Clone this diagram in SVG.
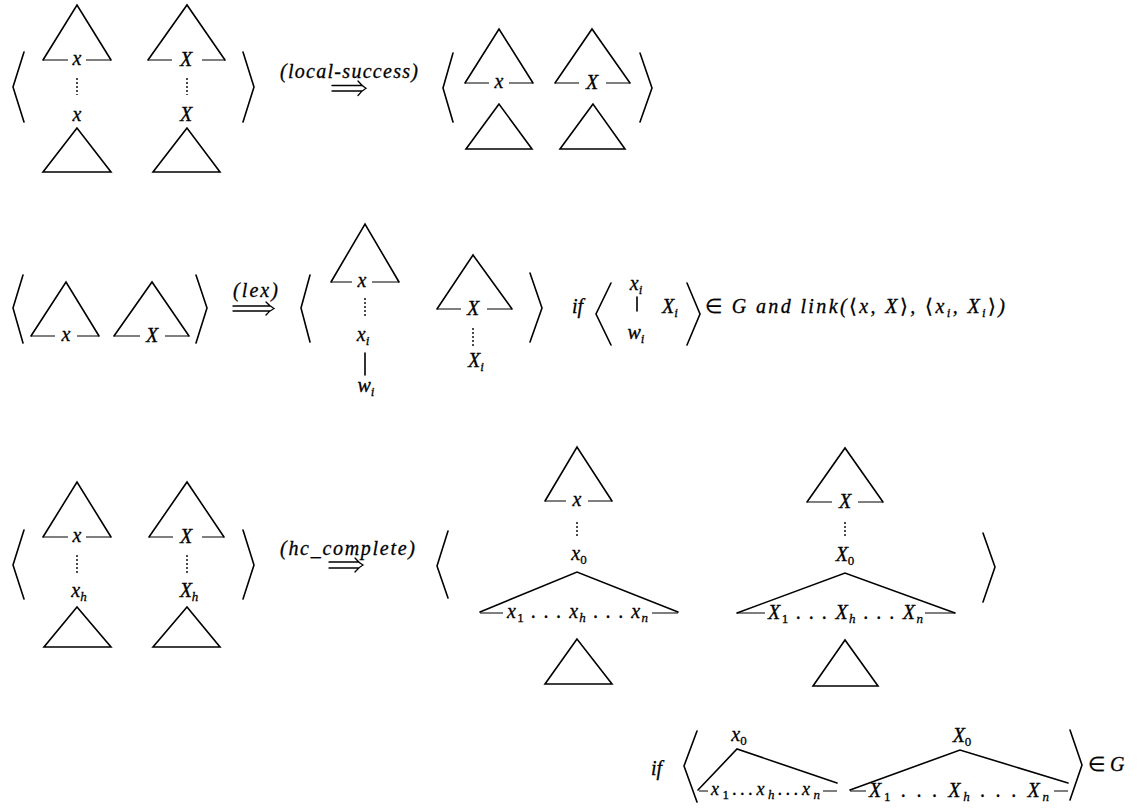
<svg xmlns="http://www.w3.org/2000/svg" width="1143" height="810" viewBox="0 0 1143 810">
<style>
.ln{fill:none;stroke:#000;stroke-width:1.6;stroke-linejoin:miter;stroke-linecap:round}
.th{fill:none;stroke:#000;stroke-width:1.2}
.dot{fill:none;stroke:#000;stroke-width:1.4;stroke-dasharray:2 2}
.m{font-family:'Liberation Serif',serif;font-style:italic;font-size:20px;fill:#000;stroke:#000;stroke-width:0.3}
.sm{font-size:18px}
.s{font-size:13px}
.up{font-style:normal}
.arr{fill:none;stroke:#000;stroke-width:1.3;stroke-linecap:round}
</style>
<rect width="1143" height="810" fill="#fff"/>

<!-- Row 1 left -->
<g id="r1-left">
<path class="ln" d="M24,52 L13,87 L24,122"/>
<path class="ln" d="M43,60 L77,5 L111,60"/>
<path class="th" d="M43,60 H68 M86,60 H111"/>
<text class="m" x="77" y="65" text-anchor="middle">x</text>
<path class="dot" d="M77,78 V95"/>
<text class="m" x="77" y="121" text-anchor="middle">x</text>
<path class="ln" d="M77,128 L43,172 L111,172 Z"/>
<path class="ln" d="M148,60 L187,5 L225,60"/>
<path class="th" d="M148,60 H172 M202,60 H225"/>
<text class="m" x="186" y="66" text-anchor="middle">X</text>
<path class="dot" d="M187,78 V95"/>
<text class="m" x="186" y="121" text-anchor="middle">X</text>
<path class="ln" d="M187,128 L153,172 L220,172 Z"/>
<path class="ln" d="M243,52 L254,87 L243,122"/>
</g>

<!-- Row 1 right -->
<g id="r1-right">
<path class="ln" d="M453,53 L443,88 L453,122"/>
<path class="ln" d="M465,83 L499,29 L533,83"/>
<path class="th" d="M465,83 H489 M509,83 H533"/>
<text class="m" x="499" y="88" text-anchor="middle">x</text>
<path class="ln" d="M499,104 L466,149 L532,149 Z"/>
<path class="ln" d="M555,83 L592,29 L630,83"/>
<path class="th" d="M555,83 H579 M606,83 H630"/>
<text class="m" x="592" y="89" text-anchor="middle">X</text>
<path class="ln" d="M593,104 L560,149 L625,149 Z"/>
<path class="ln" d="M640,53 L652,88 L640,122"/>
</g>

<!-- Row 2 left -->
<g id="r2-left">
<path class="ln" d="M23,275 L13,308 L23,343"/>
<path class="ln" d="M31,336 L66,282 L99,336"/>
<path class="th" d="M31,336 H55 M77,336 H99"/>
<text class="m" x="66" y="341" text-anchor="middle">x</text>
<path class="ln" d="M114,336 L152,282 L189,336"/>
<path class="th" d="M114,336 H140 M165,336 H189"/>
<text class="m" x="152" y="342" text-anchor="middle">X</text>
<path class="ln" d="M196,275 L207,308 L196,343"/>
</g>

<!-- Row 2 middle -->
<g id="r2-mid">
<path class="ln" d="M310,275 L301,308 L310,342"/>
<path class="ln" d="M331,282 L365,224 L399,282"/>
<path class="th" d="M331,282 H352 M372,282 H399"/>
<text class="m" x="362" y="287" text-anchor="middle">x</text>
<path class="dot" d="M365,298 V317"/>
<text class="m" x="363" y="341" text-anchor="middle">x<tspan class="s" dy="4">i</tspan></text>
<path class="ln" d="M365,353 V375"/>
<text class="m" x="366" y="392" text-anchor="middle">w<tspan class="s" dy="4">i</tspan></text>
<path class="ln" d="M437,309 L473,255 L512,309"/>
<path class="th" d="M437,309 H461 M487,309 H512"/>
<text class="m" x="473" y="315" text-anchor="middle">X</text>
<path class="dot" d="M473,328 V348"/>
<text class="m" x="476" y="367" text-anchor="middle">X<tspan class="s" dy="4">i</tspan></text>
<path class="ln" d="M530,273 L542,308 L530,342"/>
</g>

<!-- Row 2 condition -->
<g id="r2-cond">
<text class="m" x="572" y="313">if</text>
<path class="ln" d="M611,283 L596,314 L611,345"/>
<text class="m" x="636" y="290" text-anchor="middle">x<tspan class="s" dy="4">i</tspan></text>
<path class="ln" d="M637,297 V311"/>
<text class="m" x="636" y="339" text-anchor="middle">w<tspan class="s" dy="4">i</tspan></text>
<text class="m" x="662" y="313">X<tspan class="s" dy="4">i</tspan></text>
<path class="ln" d="M687,283 L700,314 L687,345"/>
<text class="m" x="705" y="313" textLength="300" lengthAdjust="spacing"><tspan class="up">∈</tspan> G  and  link(<tspan class="up">⟨</tspan>x, X<tspan class="up">⟩</tspan>, <tspan class="up">⟨</tspan>x<tspan class="s" dy="4">i</tspan><tspan dy="-4">, X</tspan><tspan class="s" dy="4">i</tspan><tspan class="up" dy="-4">⟩</tspan>)</text>
</g>

<!-- Row 3 left -->
<g id="r3-left">
<path class="ln" d="M24,530 L13,565 L24,599"/>
<path class="ln" d="M43,537 L77,482 L111,537"/>
<path class="th" d="M43,537 H68 M86,537 H111"/>
<text class="m" x="77" y="542" text-anchor="middle">x</text>
<path class="dot" d="M77,555 V573"/>
<text class="m" x="79" y="597" text-anchor="middle">x<tspan class="s" dy="4">h</tspan></text>
<path class="ln" d="M77,607 L44,647 L111,647 Z"/>
<path class="ln" d="M149,537 L187,482 L224,537"/>
<path class="th" d="M149,537 H173 M202,537 H224"/>
<text class="m" x="186" y="543" text-anchor="middle">X</text>
<path class="dot" d="M187,555 V573"/>
<text class="m" x="189" y="597" text-anchor="middle">X<tspan class="s" dy="4">h</tspan></text>
<path class="ln" d="M187,607 L153,647 L220,647 Z"/>
<path class="ln" d="M243,530 L254,565 L243,599"/>
</g>

<!-- Row 3 right side -->
<g id="r3-right">
<path class="ln" d="M448,531 L437,566 L448,598"/>
<path class="ln" d="M545,501 L577,447 L612,501"/>
<path class="th" d="M545,501 H566 M588,501 H612"/>
<text class="m" x="577" y="506" text-anchor="middle">x</text>
<path class="dot" d="M577,522 V538"/>
<text class="m" x="579" y="560" text-anchor="middle">x<tspan class="s up" dy="4">0</tspan></text>
<path class="ln" d="M480,612 L577,572 L678,612"/>
<path class="th" d="M480,613 H503 M652,613 H678"/>
<text class="m" x="507" y="618" textLength="141" lengthAdjust="spacing">x<tspan class="s up" dy="4">1</tspan><tspan dy="-4"> . . . x</tspan><tspan class="s" dy="4">h</tspan><tspan dy="-4"> . . . x</tspan><tspan class="s" dy="4">n</tspan></text>
<path class="ln" d="M577,639 L545,684 L612,684 Z"/>

<path class="ln" d="M807,502 L845,448 L883,502"/>
<path class="th" d="M807,502 H832 M858,502 H883"/>
<text class="m" x="845" y="508" text-anchor="middle">X</text>
<path class="dot" d="M845,522 V538"/>
<text class="m" x="845" y="561" text-anchor="middle">X<tspan class="s up" dy="4">0</tspan></text>
<path class="ln" d="M737,613 L845,573 L955,613"/>
<path class="th" d="M737,613 H765 M925,613 H955"/>
<text class="m" x="768" y="619" textLength="155" lengthAdjust="spacing">X<tspan class="s up" dy="4">1</tspan><tspan dy="-4"> . . . X</tspan><tspan class="s" dy="4">h</tspan><tspan dy="-4"> . . . X</tspan><tspan class="s" dy="4">n</tspan></text>
<path class="ln" d="M845,640 L813,686 L878,686 Z"/>
<path class="ln" d="M983,533 L995,567 L983,602"/>
</g>

<!-- Bottom condition -->
<g id="r3-cond">
<text class="m" x="651" y="775">if</text>
<path class="ln" d="M697,731 L684,766 L697,802"/>
<text class="m" x="739" y="741" text-anchor="middle">x<tspan class="s up" dy="4">0</tspan></text>
<path class="ln" d="M698,790 L737,749 L837,783"/>
<path class="th" d="M699,791 H708 M823,791 H837"/>
<text class="m sm" x="711" y="795" textLength="109" lengthAdjust="spacing">x<tspan class="s up" dy="4">1</tspan><tspan dy="-4">...x</tspan><tspan class="s" dy="4">h</tspan><tspan dy="-4">...x</tspan><tspan class="s" dy="4">n</tspan></text>
<text class="m" x="962" y="742" text-anchor="middle">X<tspan class="s up" dy="4">0</tspan></text>
<path class="ln" d="M850,790 L960,750 L1068,783"/>
<path class="th" d="M850,791 H866 M1054,791 H1068"/>
<text class="m" x="869" y="797" textLength="180" lengthAdjust="spacing">X<tspan class="s up" dy="4">1</tspan><tspan dy="-4"> . . . X</tspan><tspan class="s" dy="4">h</tspan><tspan dy="-4"> . . . X</tspan><tspan class="s" dy="4">n</tspan></text>
<path class="ln" d="M1070,730 L1082,765 L1070,800"/>
<text class="m" x="1088" y="771"><tspan class="up">∈</tspan> G</text>
</g>

<!-- Connectors: rewrite arrows -->
<g id="connectors">
<text class="m" x="280" y="78" textLength="138" lengthAdjust="spacing">(local-success)</text>
<path class="arr" d="M332,85.5 H362 M332,91 H362 M358,81 Q362,86 366,88.2 Q362,90.5 358,95.5"/>
<text class="m" x="233" y="297" textLength="45" lengthAdjust="spacing">(lex)</text>
<path class="arr" d="M233,306 H270 M233,311 H270 M266,302 Q270,306.5 274,308.5 Q270,310.5 266,315"/>
<text class="m" x="280" y="555" textLength="135" lengthAdjust="spacing">(hc_complete)</text>
<path class="arr" d="M329,562 H359 M329,568 H359 M355,558 Q359,563 363,565 Q359,567 355,572"/>
</g>
</svg>
